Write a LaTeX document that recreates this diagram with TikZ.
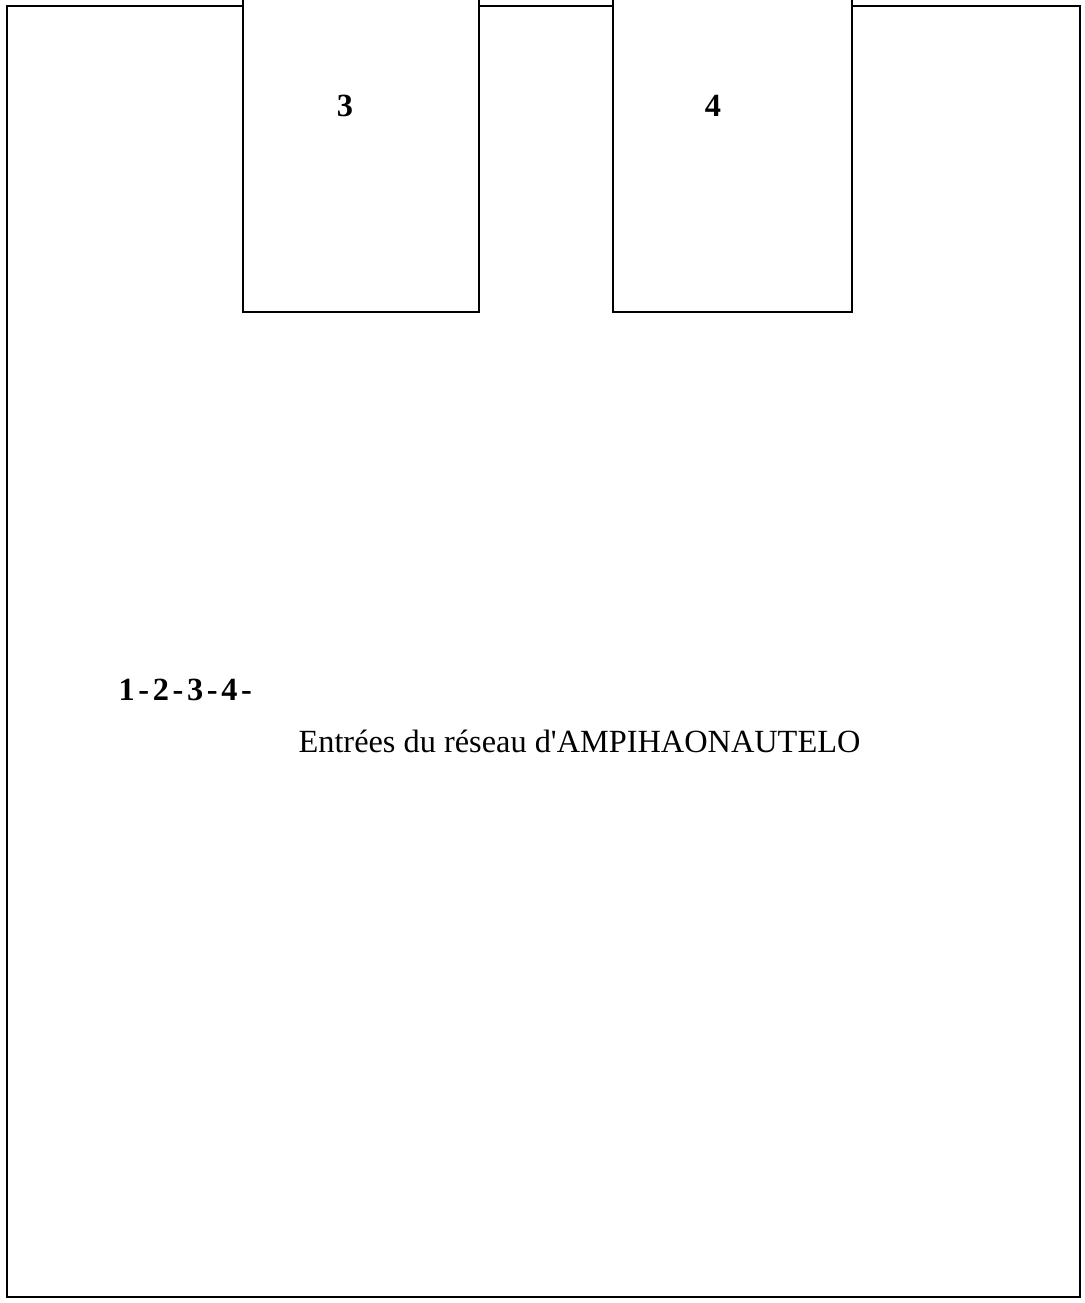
\documentclass[tikz,border=0pt]{standalone}
\usepackage{fontspec}
\setmainfont{Liberation Serif}
\usepackage{tikz}
\usetikzlibrary{positioning}

\begin{document}
\begin{tikzpicture}[
    x=0.0125cm, y=-0.0125cm,
    frame/.style={draw, line width=1pt, line join=miter},
    tabnum/.style={font=\fontsize{11.5}{14}\selectfont\bfseries, inner sep=0pt},
    legend/.style={font=\fontsize{11.5}{14}\selectfont, anchor=west, inner sep=0pt}
]
\useasboundingbox (0,0) rectangle (1084,1303);

% outer frame, open where the two entries come in
\draw[frame] (243,6) -- (7,6) -- (7,1297) -- (1080,1297) -- (1080,6) -- (852,6);
\draw[frame] (479,6) -- (613,6);

% entries 3 and 4
\draw[frame] (243,0) -- (243,312) -- (479,312) -- (479,0);
\draw[frame] (613,0) -- (613,312) -- (852,312) -- (852,0);
\node[tabnum] (num3) at (345,106) {3};
\node[tabnum] (num4) at (713,106) {4};

% legend
\node[legend, font=\fontsize{11.5}{14}\selectfont\bfseries] (keys) at (118,690) {\spaceskip=1.3pt\relax 1 - 2 - 3 - 4 -};
\node[legend] (caption) at (298,741) {Entrées du réseau d\textquotesingle AMPIHAONAUTELO};
\end{tikzpicture}
\end{document}
